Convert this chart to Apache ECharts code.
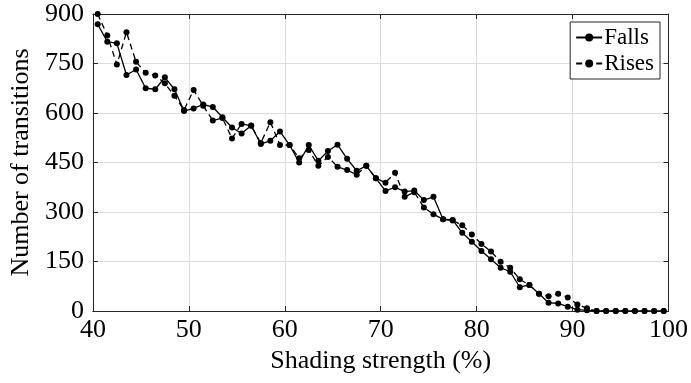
<!DOCTYPE html>
<html><head><meta charset="utf-8">
<script src="https://cdn.jsdelivr.net/npm/echarts@6/dist/echarts.min.js"></script>
<style>html,body{margin:0;padding:0;background:#fff}#c{width:691px;height:383px}</style>
</head><body><div id="c"></div>
<script>
const shading = [40.5,41.5,42.5,43.5,44.5,45.5,46.5,47.5,48.5,49.5,50.5,51.5,52.5,53.5,54.5,55.5,56.5,57.5,58.5,59.5,60.5,61.5,62.5,63.5,64.5,65.5,66.5,67.5,68.5,69.5,70.5,71.5,72.5,73.5,74.5,75.5,76.5,77.5,78.5,79.5,80.5,81.5,82.5,83.5,84.5,85.5,86.5,87.5,88.5,89.5,90.5,91.5,92.5,93.5,94.5,95.5,96.5,97.5,98.5,99.5];
const falls = [869,816,811,715,732,675,672,708,672,606,614,626,618,587,556,538,562,506,516,544,503,450,503,455,485,504,461,425,440,402,364,375,362,365,336,346,278,276,237,210,182,157,131,119,72,79,52,25,23,13,4,2,0,0,0,0,0,0,0,0];
const rises = [900,835,747,845,755,722,714,690,652,609,670,622,577,585,523,567,561,509,572,503,503,463,488,440,467,437,427,413,440,402,389,419,346,360,314,293,278,274,260,232,203,180,149,131,96,79,52,45,52,41,20,8,0,0,0,0,0,0,0,0];
const xTicks = {min:40, max:100, interval:10};
const yTicks = {min:0, max:900, interval:150};

const font = 'Liberation Serif';
const axisColor = '#262626';
const ch = echarts.init(document.getElementById('c'));
const pairs = a => shading.map((x,i)=>[x,a[i]]);
const baseAxis = {
  axisLine:{show:true,onZero:false,lineStyle:{color:axisColor,width:1}},
  axisTick:{show:true,inside:true,length:5,lineStyle:{color:axisColor}},
  axisLabel:{color:'#000',fontFamily:font,fontSize:26},
  splitLine:{show:false}
};
ch.setOption({
  animation:false,
  grid:{left:87,right:22,top:14,bottom:72,containLabel:false},
  xAxis:[
    Object.assign({}, baseAxis, {type:'value',position:'bottom',min:xTicks.min,max:xTicks.max,interval:xTicks.interval,
      axisLabel:{color:'#000',fontFamily:font,fontSize:26,margin:6},
      splitLine:{show:true,lineStyle:{color:'#dedede',width:1}},
      name:'Shading strength (%)',nameLocation:'middle',nameGap:30,
      nameTextStyle:{color:'#000',fontFamily:font,fontSize:26,verticalAlign:'top'}}),
    Object.assign({}, baseAxis, {type:'value',position:'top',min:xTicks.min,max:xTicks.max,interval:xTicks.interval,
      axisLabel:{show:false}})
  ],
  yAxis:[
    Object.assign({}, baseAxis, {type:'value',position:'left',min:yTicks.min,max:yTicks.max,interval:yTicks.interval,
      axisLabel:{color:'#000',fontFamily:font,fontSize:26,margin:9},
      splitLine:{show:true,lineStyle:{color:'#dedede',width:1}},
      name:'Number of transitions',nameLocation:'middle',nameGap:53,
      nameTextStyle:{color:'#000',fontFamily:font,fontSize:26}}),
    Object.assign({}, baseAxis, {type:'value',position:'right',min:yTicks.min,max:yTicks.max,interval:yTicks.interval,
      axisLabel:{show:false}})
  ],
  legend:{
    orient:'vertical',right:31,top:22,
    padding:[4,6,4,5],itemGap:3,itemWidth:26,itemHeight:10,
    borderColor:axisColor,borderWidth:1,backgroundColor:'#fff',
    textStyle:{color:'#000',fontFamily:font,fontSize:23,padding:[0,0,0,-3]},
    data:['Falls','Rises']
  },
  series:[
    {name:'Falls',type:'line',data:pairs(falls),symbol:'circle',symbolSize:6,
      lineStyle:{color:'#000',width:1.3,type:'solid'},itemStyle:{color:'#000'}},
    {name:'Rises',type:'line',data:pairs(rises),symbol:'circle',symbolSize:6,
      lineStyle:{color:'#000',width:1.3,type:[6,4]},itemStyle:{color:'#000'}}
  ]
});
</script></body></html>
